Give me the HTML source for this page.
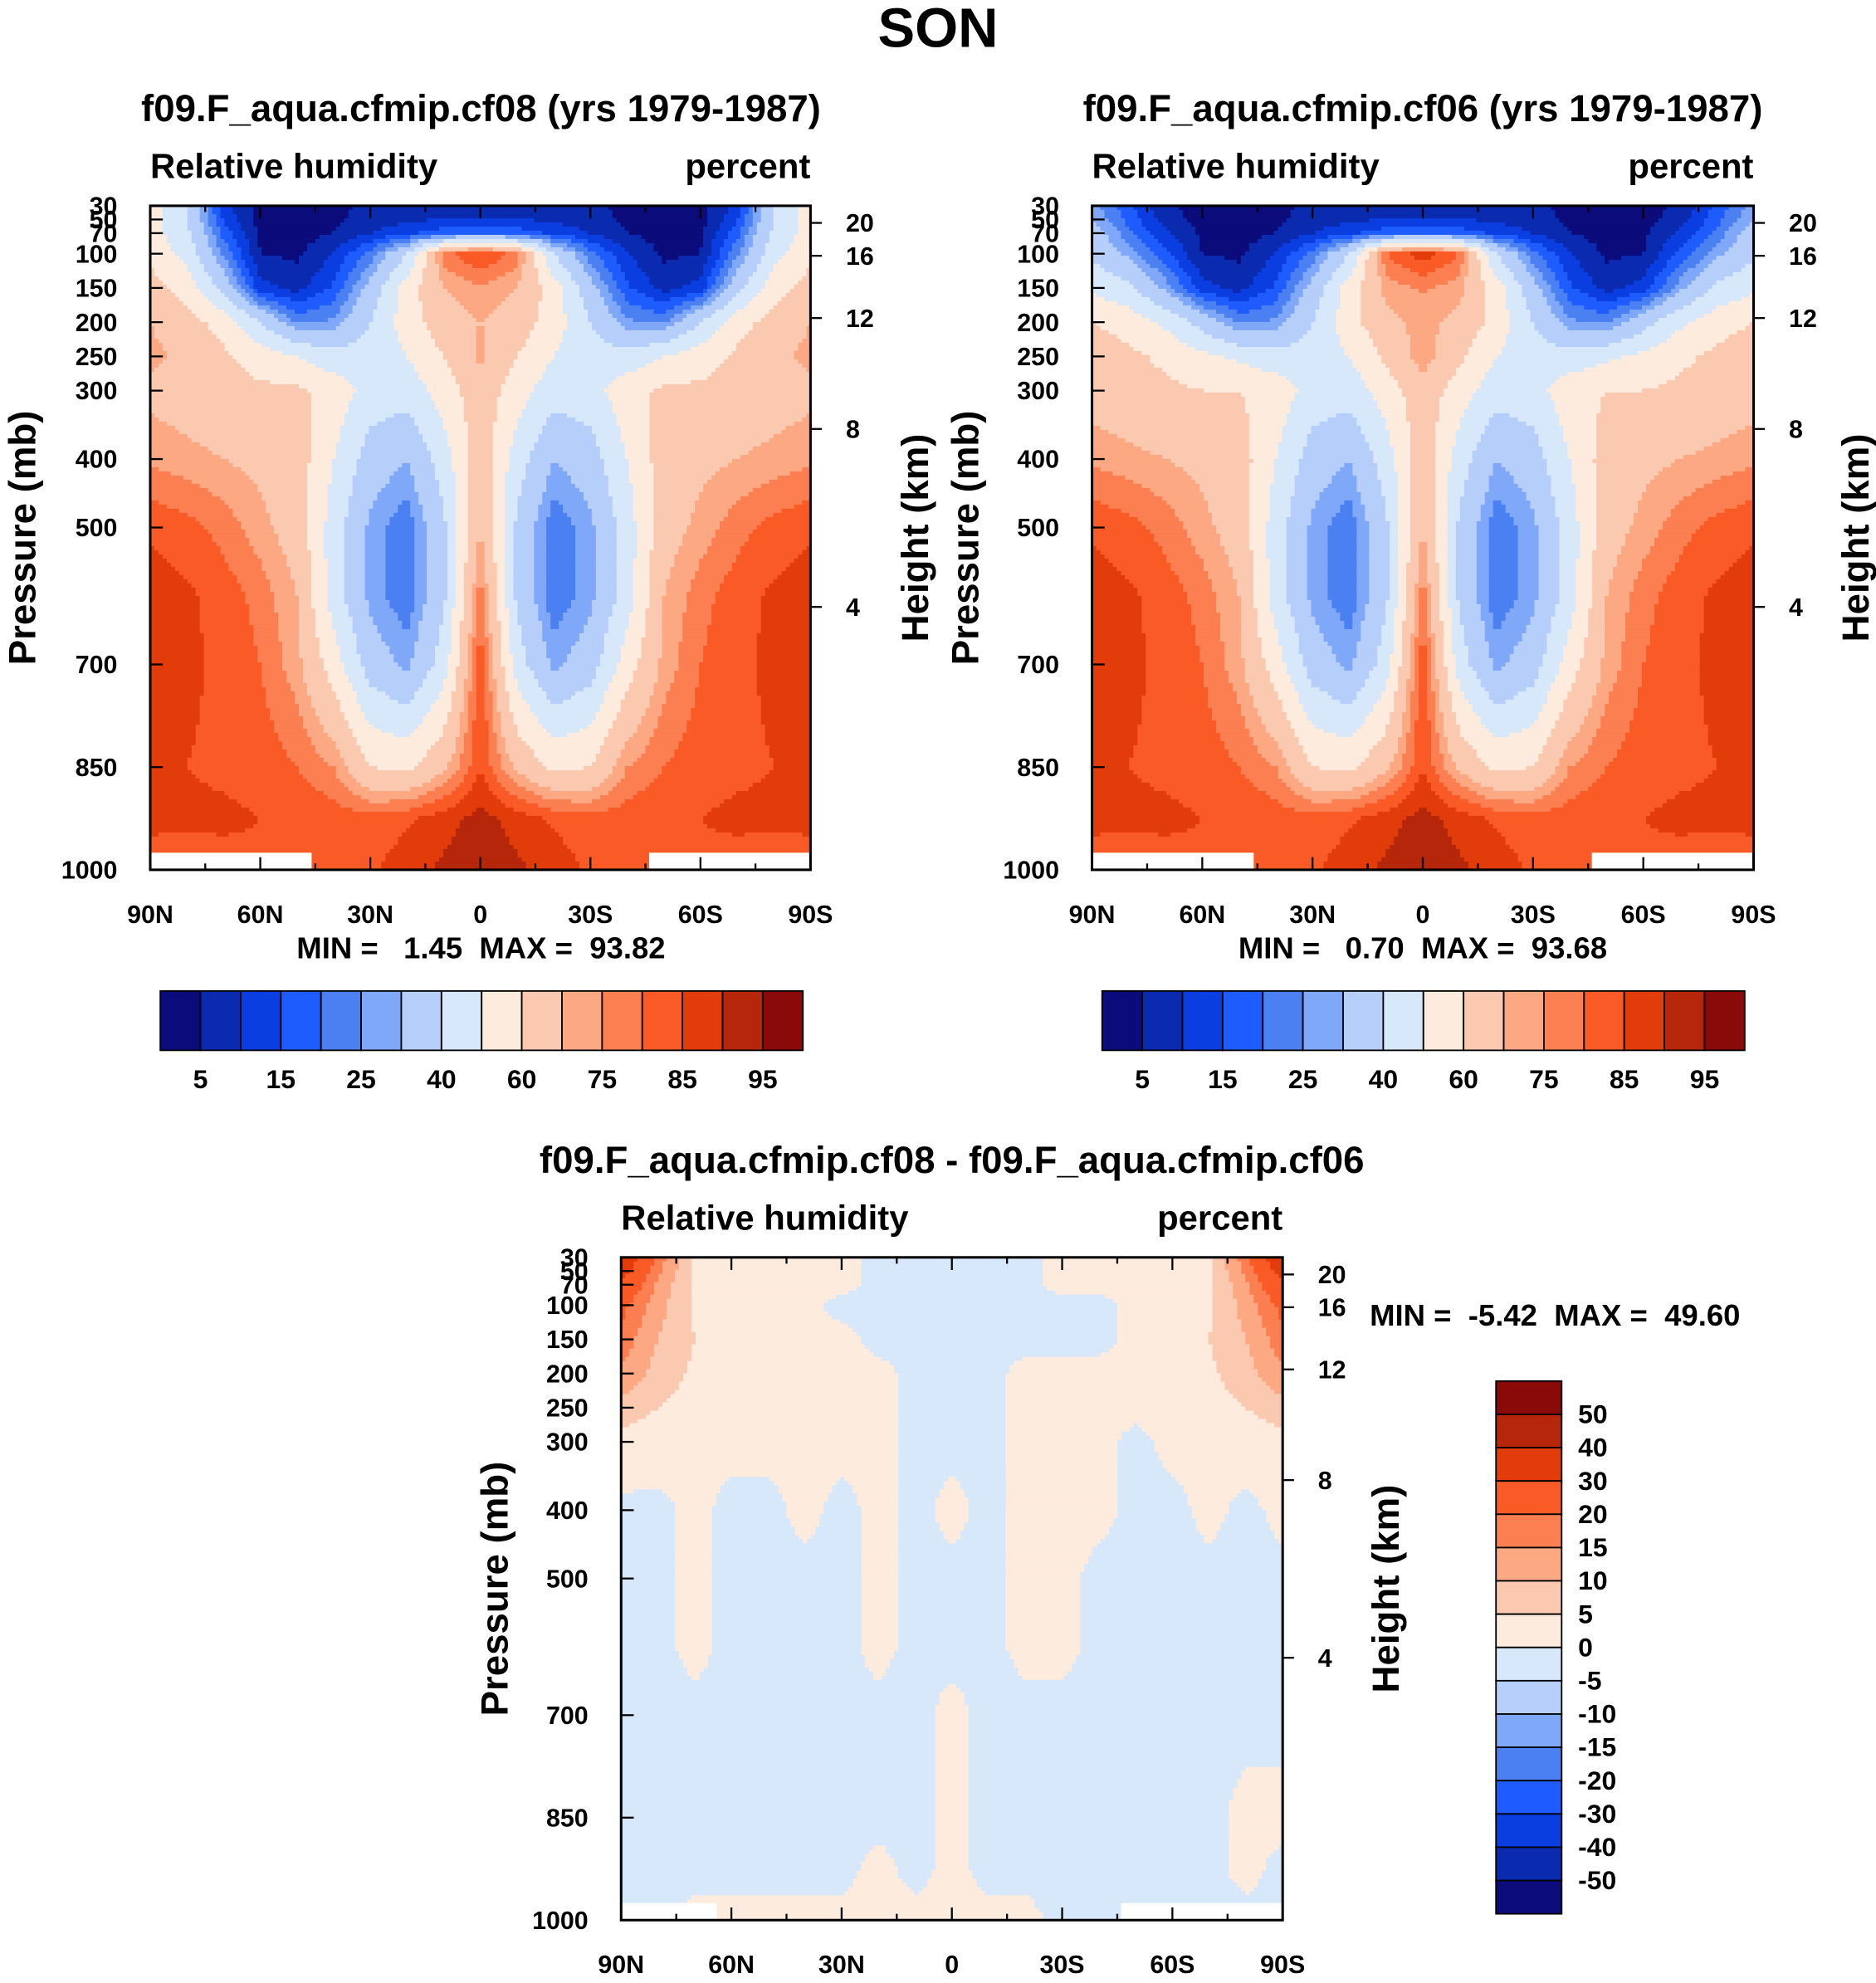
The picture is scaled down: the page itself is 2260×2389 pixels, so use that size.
<!DOCTYPE html>
<html><head><meta charset="utf-8"><style>
html,body{margin:0;padding:0;background:#fff}
svg text{font-family:"Liberation Sans",Arial,sans-serif;font-weight:bold;fill:#000}
</style></head><body>
<svg id="fig" xmlns="http://www.w3.org/2000/svg" width="2260" height="2384" viewBox="0 0 1486 1567.5">
<rect width="1486" height="1567.5" fill="#fff"/>
<text x="743" y="37" font-size="44" text-anchor="middle">SON</text>
<text x="381" y="96" font-size="30" text-anchor="middle">f09.F_aqua.cfmip.cf08 (yrs 1979-1987)</text>
<text x="1127" y="96" font-size="30" text-anchor="middle">f09.F_aqua.cfmip.cf06 (yrs 1979-1987)</text>
<text x="754" y="929" font-size="30" text-anchor="middle">f09.F_aqua.cfmip.cf08 - f09.F_aqua.cfmip.cf06</text>
<g id="p1"></g>
<g id="p2"></g>
<g id="p3"></g>
<text x="381" y="759" font-size="24" text-anchor="middle" xml:space="preserve">MIN =   1.45  MAX =  93.82</text>
<text x="1127" y="759" font-size="24" text-anchor="middle" xml:space="preserve">MIN =   0.70  MAX =  93.68</text>
<text x="1085" y="1050" font-size="24" xml:space="preserve">MIN =  -5.42  MAX =  49.60</text>
<g id="cb1"></g>
<g id="cb2"></g>
<g id="cb3"></g>
</svg>
<script>
const NS="http://www.w3.org/2000/svg";
const lats=[90,80,70,60,50,40,30,20,10,0,-10,-20,-30,-40,-50,-60,-70,-80,-90];
const plevs=[30,50,70,100,150,200,250,300,400,500,600,700,850,925,1000];
const rhLevels=[5,10,15,20,25,30,40,50,60,70,75,80,85,90,95];
const rhLabels=["5","15","25","40","60","75","85","95"];
const diffLevels=[-50,-40,-30,-20,-15,-10,-5,0,5,10,15,20,30,40,50];
const palette=["#0b0b7c","#0a2ab0","#0a3ee0","#1e5cff","#4a80f2","#80a8f8","#b6cefa","#d8e8fb","#fdebdd","#fbc9b0","#fba883","#fb7f50","#f95a26","#e23c0b","#b5260a","#8a0a0a"];
const rh1=[
[55,40,12,3,3,4,6,8,8,8,8,8,6,4,3,3,12,40,55],
[55,40,14,3,3,4,7,9,10,10,10,9,7,4,3,3,14,40,55],
[55,42,18,4,3,5,10,14,18,20,18,14,10,5,3,4,18,42,55],
[58,46,24,5,4,10,22,40,78,86,78,40,22,10,4,5,24,46,58],
[64,56,36,12,8,16,33,55,70,74,70,55,33,16,8,12,36,56,64],
[70,64,56,40,24,26,40,55,66,70,66,55,40,26,24,40,56,64,70],
[72,68,62,55,50,44,44,50,60,72,60,50,44,44,50,55,62,68,72],
[68,66,64,62,62,56,46,44,55,66,55,44,46,56,62,62,64,66,68],
[74,72,70,68,65,50,35,30,45,66,45,30,35,50,65,68,70,72,74],
[84,82,78,72,66,45,28,21,38,70,38,21,28,45,66,72,78,82,84],
[88,86,83,78,70,45,28,21,38,78,38,21,28,45,70,78,83,86,88],
[87,86,84,80,72,55,35,28,45,84,45,28,35,55,72,80,84,86,87],
[85,85,84,83,80,75,60,58,68,85,68,58,60,75,80,83,84,85,85],
[86,86,86,85,84,83,82,84,88,92,88,84,82,83,84,85,86,86,86],
[83,82,83,84,84,82,84,88,91,93,91,88,84,82,84,84,83,82,83]];
const rh2=[
[28,16,6,3,3,4,6,8,8,8,8,8,6,4,3,3,6,16,28],
[30,18,7,3,3,4,7,9,10,10,10,9,7,4,3,3,7,18,30],
[34,22,11,4,3,5,10,14,18,20,18,14,10,5,3,4,11,22,34],
[38,28,16,5,4,10,22,40,80,88,80,40,22,10,4,5,16,28,38],
[48,42,28,12,8,16,33,55,72,76,72,55,33,16,8,12,28,42,48],
[60,56,48,36,24,26,40,56,68,72,68,56,40,26,24,36,48,56,60],
[66,62,58,52,48,44,44,50,62,74,62,50,44,44,48,52,58,62,66],
[66,64,62,60,60,56,46,44,55,66,55,44,46,56,60,60,62,64,66],
[74,72,70,68,65,50,35,30,45,66,45,30,35,50,65,68,70,72,74],
[84,82,78,72,66,45,28,21,38,70,38,21,28,45,66,72,78,82,84],
[88,86,83,78,70,45,28,21,38,78,38,21,28,45,70,78,83,86,88],
[87,86,84,80,72,55,35,28,45,84,45,28,35,55,72,80,84,86,87],
[85,85,84,83,80,75,60,58,68,85,68,58,60,75,80,83,84,85,85],
[86,86,86,85,84,83,82,84,88,92,88,84,82,83,84,85,86,86,86],
[83,82,83,84,84,82,84,88,91,93,91,88,84,82,84,84,83,82,83]];
const diff=[
[40,18,4,1,1,1,1,-1,-1,-1,-1,-1,1,1,1,1,4,18,40],
[34,16,4,1,1,1,1,-1,-1,-1,-1,-1,1,1,1,1,4,16,34],
[28,14,4,1,1,1,1,-1,-1,-1,-1,-1,1,1,1,1,4,14,28],
[22,12,4,2,1,1,-1,-1,-1,-1,-1,-1,-1,-1,1,2,4,12,22],
[18,10,5,2,1,1,1,-1,-1,-1,-1,-1,-1,-1,1,2,5,10,18],
[14,8,4,2,1,1,1,1,-1,-1,-1,1,1,1,1,2,4,8,14],
[8,5,3,1,1,1,1,1,-1,-1,-1,1,1,1,1,1,3,5,8],
[3,2,1,1,1,1,1,1,-1,-1,-1,1,1,1,-1,1,1,2,3],
[-1,-1,1,-1,-1,1,-1,1,-1,1,-1,1,1,1,-1,-1,1,-1,1],
[-1,-1,1,-1,-1,-1,-1,1,-1,-1,-1,1,1,-1,-1,-1,-1,-1,-1],
[-1,-1,1,-1,-1,-1,-1,1,-1,-1,-1,1,1,-1,-1,-1,-1,-1,-1],
[-1,-1,-1,-1,-1,-1,-1,-1,-1,1,-1,-1,-1,-1,-1,-1,-1,-1,-1],
[-1,-1,-1,-1,-1,-1,-1,-1,-1,1,-1,-1,-1,-1,-1,-1,-1,1,1],
[-1,-1,-1,-1,-1,-1,-1,1,-1,1,-1,-1,-1,-1,-1,-1,-1,1,-1],
[-1,-1,1,1,1,1,1,1,1,1,1,1,-1,-1,-1,-1,-1,-1,-1]];
const heightKm=[20,16,12,8,4];
const heightP=[55,103,194,356,616];
const pTicks=[30,50,70,100,150,200,250,300,400,500,700,850,1000];
const latTickVals=[90,60,30,0,-30,-60,-90];
const latTickLabels=["90N","60N","30N","0","30S","60S","90S"];
const diffLabels=["50","40","30","20","15","10","5","0","-5","-10","-15","-20","-30","-40","-50"];

function el(tag,attrs,parent){const e=document.createElementNS(NS,tag);for(const k in attrs)e.setAttribute(k,attrs[k]);parent.appendChild(e);return e;}
function colorIdx(v,lev){let i=0;while(i<lev.length&&v>=lev[i])i++;return i;}
function sample(data,lat,p){
  let fi=(90-lat)/10;let i=Math.min(Math.floor(fi),lats.length-2);let tx=fi-i;
  let j=0;while(j<plevs.length-2&&p>plevs[j+1])j++;
  let ty=(p-plevs[j])/(plevs[j+1]-plevs[j]);
  const a=data[j][i],b=data[j][i+1],c=data[j+1][i],d=data[j+1][i+1];
  return (a*(1-tx)+b*tx)*(1-ty)+(c*(1-tx)+d*tx)*ty;
}
function panel(g,x0,x1,y0,y1,data,lev,miss,pressX,heightX){
  const W=x1-x0,H=y1-y0;
  const xs=lat=>x0+(90-lat)/180*W;
  const ys=p=>y0+(p-30)/970*H;
  const nx=160,ny=160,cw=W/nx,ch=H/ny;
  const field=el('g',{},g);
  
  
  for(let r=0;r<ny;r++){
    const p=30+(r+0.5)/ny*970;
    let start=0,cur=-1;
    for(let c=0;c<=nx;c++){
      let idx=-2;
      if(c<nx){const lat=90-(c+0.5)/nx*180;idx=colorIdx(sample(data,lat,p),lev);}
      if(idx!==cur){
        if(cur>=0){const rc=el('rect',{x:(x0+start*cw).toFixed(2),y:(y0+r*ch).toFixed(2),width:((c-start)*cw+0.6).toFixed(2),height:(ch+0.6).toFixed(2),fill:palette[cur]},field);
          }
        cur=idx;start=c;
      }
    }
  }
  miss.forEach(m=>{const mr=el('rect',{x:xs(m[0]),y:ys(975),width:xs(m[1])-xs(m[0]),height:ys(1000)-ys(975),fill:'#fff'},g);
    });
  const fr=el('rect',{x:x0,y:y0,width:W,height:H,fill:'none',stroke:'#000','stroke-width':2},g);
  
  for(let lat=90;lat>=-90;lat-=15){
    const maj=lat%30===0,L=maj?10:5,x=xs(lat);
    el('line',{x1:x,x2:x,y1:y1,y2:y1-L,stroke:'#000','stroke-width':1.5},g);
    el('line',{x1:x,x2:x,y1:y0,y2:y0+L,stroke:'#000','stroke-width':1.5},g);
  }
  latTickVals.forEach((v,k)=>{const t=el('text',{x:xs(v),y:y1+42,'font-size':20,'text-anchor':'middle'},g);t.textContent=latTickLabels[k];
    });
  pTicks.forEach(p=>{const y=ys(p);
    el('line',{x1:x0,x2:x0+10,y1:y,y2:y,stroke:'#000','stroke-width':1.5},g);
    const t=el('text',{x:x0-26,y:y+7,'font-size':20,'text-anchor':'end'},g);t.textContent=p;
    });
  heightP.forEach((p,k)=>{const y=ys(p);
    el('line',{x1:x1,x2:x1+9,y1:y,y2:y,stroke:'#000','stroke-width':1.5},g);
    const t=el('text',{x:x1+28,y:y+7,'font-size':20},g);t.textContent=heightKm[k];
    });
  const cy=(y0+y1)/2;
  let t=el('text',{x:pressX,y:cy,'font-size':30,'text-anchor':'middle',transform:`rotate(-90 ${pressX} ${cy})`},g);t.textContent='Pressure (mb)';
  
  t=el('text',{x:heightX,y:cy,'font-size':30,'text-anchor':'middle',transform:`rotate(-90 ${heightX} ${cy})`},g);t.textContent='Height (km)';
  
  t=el('text',{x:x0,y:y0-22,'font-size':27.5},g);t.textContent='Relative humidity';
  
  t=el('text',{x:x1,y:y0-22,'font-size':27.5,'text-anchor':'end'},g);t.textContent='percent';
  
}
panel(document.getElementById('p1'),119,642,163,689,rh1,rhLevels,[[90,46],[-46,-90]],28,735);
panel(document.getElementById('p2'),865,1389,163,689,rh2,rhLevels,[[90,46],[-46,-90]],775,1480);
panel(document.getElementById('p3'),492,1016,996,1521,diff,diffLevels,[[90,64],[-46,-90]],402,1108);

function hbar(g,x0,y0,w,h){
  const bw=w/16;
  for(let i=0;i<16;i++){const r=el('rect',{x:x0+i*bw,y:y0,width:bw,height:h,fill:palette[i],stroke:'#000','stroke-width':1.2},g);
    }
  rhLabels.forEach((s,k)=>{const t=el('text',{x:x0+(2*k+1)*bw,y:y0+h+30,'font-size':21,'text-anchor':'middle'},g);t.textContent=s;
    });
}
hbar(document.getElementById('cb1'),127,785,509,47);
hbar(document.getElementById('cb2'),873,785,509,47);
(function(){const g=document.getElementById('cb3');const x0=1185,y0=1094,w=52,h=422,bh=h/16;
  for(let i=0;i<16;i++){const r=el('rect',{x:x0,y:y0+i*bh,width:w,height:bh,fill:palette[15-i],stroke:'#000','stroke-width':1.2},g);
    }
  diffLabels.forEach((s,k)=>{const t=el('text',{x:x0+w+13,y:y0+(k+1)*bh+7,'font-size':21},g);t.textContent=s;
    });
})();
</script>
</body></html>
